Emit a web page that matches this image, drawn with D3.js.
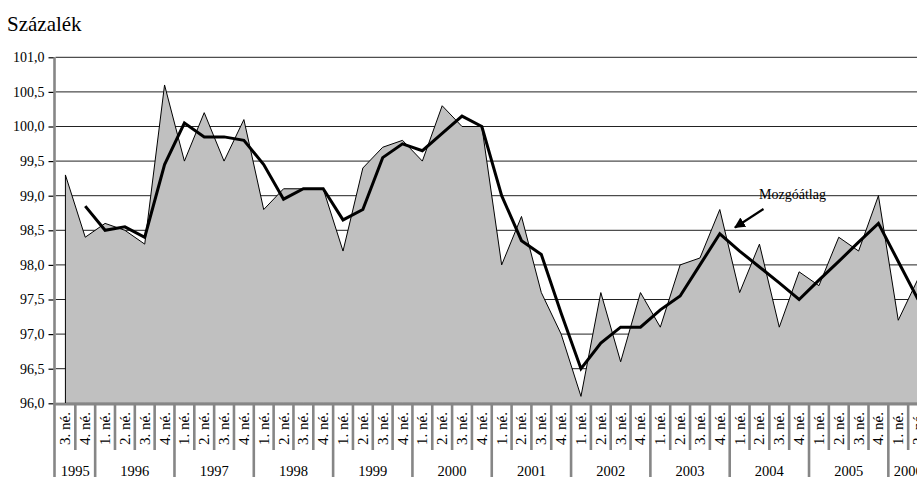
<!DOCTYPE html>
<html>
<head>
<meta charset="utf-8">
<script src="https://cdn.jsdelivr.net/npm/d3@7"></script>
<style>
  html, body { margin: 0; padding: 0; background: #fff; overflow: hidden; }
  svg, svg text { font-family: "Liberation Serif", "Times New Roman", "DejaVu Serif", serif; }
</style>
</head>
<body>
<svg id="chart" width="917" height="477"></svg>
<script>
// ---- data ----
const quarterLabels = ["3. né.","4. né.",
  "1. né.","2. né.","3. né.","4. né.", "1. né.","2. né.","3. né.","4. né.",
  "1. né.","2. né.","3. né.","4. né.", "1. né.","2. né.","3. né.","4. né.",
  "1. né.","2. né.","3. né.","4. né.", "1. né.","2. né.","3. né.","4. né.",
  "1. né.","2. né.","3. né.","4. né.", "1. né.","2. né.","3. né.","4. né.",
  "1. né.","2. né.","3. né.","4. né.", "1. né.","2. né.","3. né.","4. né.",
  "1. né.","2. né."];
const years = ["1995","1996","1997","1998","1999","2000","2001","2002","2003","2004","2005","2006"];
const quartersPerYear = [2,4,4,4,4,4,4,4,4,4,4,2];
const indexValues = [99.3, 98.4, 98.6, 98.5, 98.3, 100.6, 99.5, 100.2, 99.5, 100.1,
  98.8, 99.1, 99.1, 99.1, 98.2, 99.4, 99.7, 99.8, 99.5, 100.3,
  100.0, 100.0, 98.0, 98.7, 97.6, 97.0, 96.1, 97.6, 96.6, 97.6,
  97.1, 98.0, 98.1, 98.8, 97.6, 98.3, 97.1, 97.9, 97.7, 98.4,
  98.2, 99.0, 97.2, 97.8];
const movingAvg = [null, 98.85, 98.5, 98.55, 98.4, 99.45, 100.05, 99.85, 99.85, 99.8,
  99.45, 98.95, 99.1, 99.1, 98.65, 98.8, 99.55, 99.75, 99.65, 99.9,
  100.15, 100.0, 99.0, 98.35, 98.15, 97.3, 96.5, 96.87, 97.1, 97.1,
  97.35, 97.55, 98.0, 98.45, 98.2, 97.97, 97.74, 97.5, 97.78, 98.05,
  98.33, 98.6, 98.05, 97.5];
const yTicks = [96.0, 96.5, 97.0, 97.5, 98.0, 98.5, 99.0, 99.5, 100.0, 100.5, 101.0];
const yTitle = "Százalék";
const annotation = "Mozgóátlag";

// ---- layout ----
const FONT = "'Liberation Serif', 'Times New Roman', 'DejaVu Serif', serif";
const svg = d3.select("#chart");
const plotLeft = 55.5, plotRight = 928, plotTop = 57.3, plotBottom = 403.3;
const idx = d3.range(quarterLabels.length);
const x = d3.scaleBand().domain(idx).range([plotLeft, plotRight]).padding(0);
const y = d3.scaleLinear().domain([96, 101]).range([plotBottom, plotTop]);
const cx = i => x(i) + x.bandwidth() / 2;
const axisGray = "#868686";

// gridlines
svg.append("g").selectAll("line").data(yTicks).join("line")
  .attr("x1", plotLeft).attr("x2", 917)
  .attr("y1", d => y(d)).attr("y2", d => y(d))
  .attr("stroke", "#222").attr("stroke-width", 1);

// area of quarterly index
const area = d3.area().x((d, i) => cx(i)).y0(y(96)).y1(d => y(d));
svg.append("path").datum(indexValues)
  .attr("d", area)
  .attr("fill", "#c0c0c0").attr("stroke", "#000").attr("stroke-width", 1);

// moving average
const line = d3.line().defined(d => d != null).x((d, i) => cx(i)).y(d => y(d));
svg.append("path").datum(movingAvg)
  .attr("d", line)
  .attr("fill", "none").attr("stroke", "#000").attr("stroke-width", 3)
  .attr("stroke-linejoin", "miter");

// y axis
const yAxis = d3.axisLeft(y).tickValues(yTicks).tickSize(6).tickPadding(4)
  .tickFormat(d => d3.format(".1f")(d).replace(".", ","));
const gy = svg.append("g").attr("transform", `translate(${plotLeft - 1},0)`).call(yAxis)
  .attr("font-family", FONT).attr("font-size", 14);
gy.select(".domain").remove();
gy.selectAll(".tick line").attr("stroke", "#000").attr("stroke-width", 1.2);
gy.selectAll(".tick text").attr("fill", "#000").style("font-family", FONT).style("font-size", "14px");
svg.append("line").attr("x1", plotLeft - 1).attr("x2", plotLeft - 1)
  .attr("y1", plotTop).attr("y2", 477)
  .attr("stroke", axisGray).attr("stroke-width", 2.6);

// x axis baseline
svg.append("line").attr("x1", plotLeft - 2).attr("x2", 917)
  .attr("y1", plotBottom + 1).attr("y2", plotBottom + 1)
  .attr("stroke", axisGray).attr("stroke-width", 2.6);

// quarter separators and labels
const yearStarts = [];
let acc = 0;
quartersPerYear.forEach(n => { yearStarts.push(acc); acc += n; });
const gq = svg.append("g");
idx.slice(1).concat([idx.length]).forEach(i => {
  const xs = i < idx.length ? x(i) : plotRight;
  const isYear = yearStarts.includes(i) || i === idx.length;
  gq.append("line").attr("x1", xs).attr("x2", xs)
    .attr("y1", plotBottom).attr("y2", isYear ? 477 : 450)
    .attr("stroke", axisGray).attr("stroke-width", 2.6);
});
gq.selectAll("text").data(idx).join("text")
  .attr("transform", i => `translate(${cx(i) + 5},412) rotate(-90)`)
  .attr("text-anchor", "end")
  .style("font-family", FONT).style("font-size", "15px").attr("fill", "#000")
  .text(i => quarterLabels[i]);

// year labels
svg.append("g").selectAll("text").data(years).join("text")
  .attr("x", (d, k) => {
    const s = yearStarts[k], e = s + quartersPerYear[k];
    const xe = e < idx.length ? x(e) : plotRight;
    return (x(s) + xe) / 2;
  })
  .attr("y", 475.5)
  .attr("text-anchor", "middle")
  .style("font-family", FONT).style("font-size", "14.5px").attr("fill", "#000")
  .text(d => d);

// title
svg.append("text").attr("x", 7).attr("y", 31)
  .style("font-family", FONT).style("font-size", "21px").attr("fill", "#000").text(yTitle);

// annotation with arrow
const defs = svg.append("defs");
defs.append("marker").attr("id", "arrowhead")
  .attr("viewBox", "0 0 10 10").attr("refX", 9).attr("refY", 5)
  .attr("markerWidth", 5).attr("markerHeight", 5).attr("orient", "auto")
  .append("path").attr("d", "M0,0 L10,5 L0,10 z").attr("fill", "#000");
svg.append("text").attr("x", 792.5).attr("y", 198.5)
  .attr("text-anchor", "middle").style("font-family", FONT).style("font-size", "14px").attr("fill", "#000")
  .text(annotation);
svg.append("line").attr("x1", 763.5).attr("y1", 209).attr("x2", 735).attr("y2", 227.5)
  .attr("stroke", "#000").attr("stroke-width", 2.2).attr("marker-end", "url(#arrowhead)");
</script>
</body>
</html>
